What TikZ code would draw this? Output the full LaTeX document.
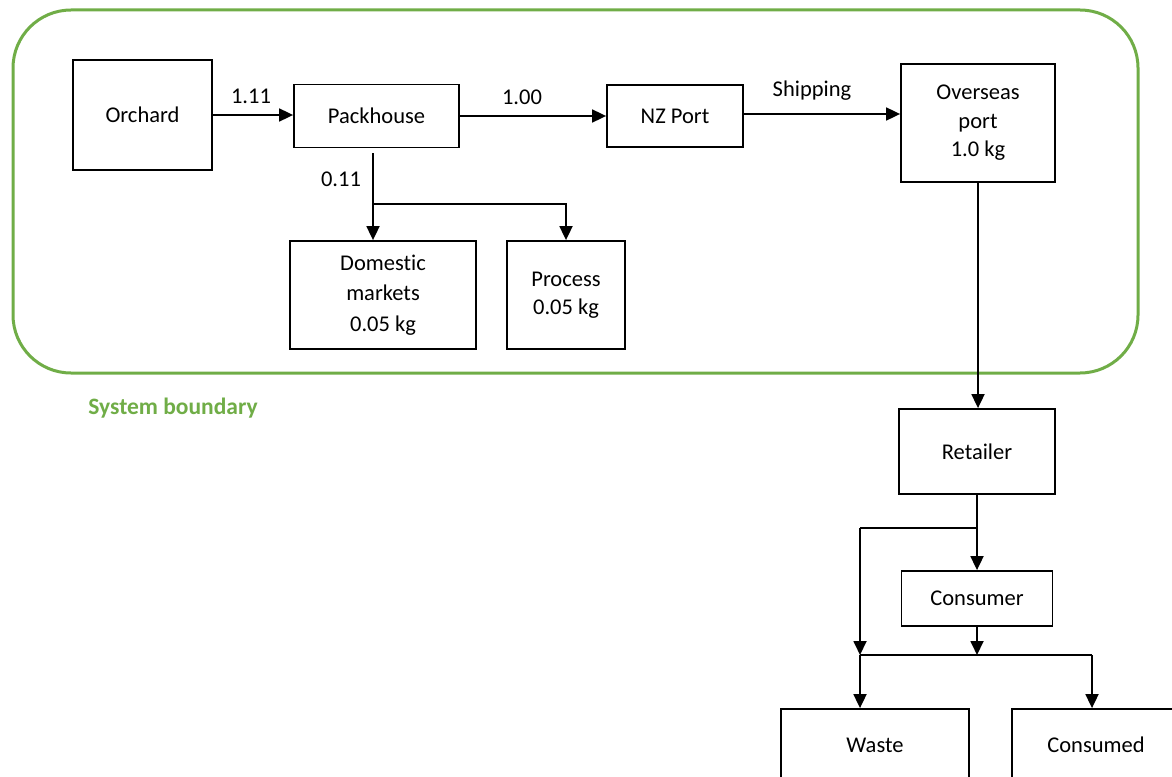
\documentclass[tikz,border=0pt]{standalone}
\usepackage{fontspec}
\setmainfont[Ligatures=NoCommon]{Carlito}
\usetikzlibrary{arrows.meta}
\definecolor{sysgreen}{RGB}{112,173,71}
\begin{document}
\begin{tikzpicture}[x=1pt,y=-1pt,
  every node/.style={font=\fontsize{22.5}{28.5}\selectfont},
  box/.style={draw,line width=1.8pt,inner sep=0pt,align=center},
  lbl/.style={inner sep=0pt},
  conn/.style={line width=1.8pt},
  arr/.style={line width=1.8pt,-{Triangle[length=14pt,width=13pt]}}]
\useasboundingbox (0,0) rectangle (1172,776);
\clip (0,0) rectangle (1172,776);
% system boundary
\draw[sysgreen,line width=3pt,rounded corners=58pt] (13,10) rectangle (1138,373);
\node[lbl,text=sysgreen,font=\fontsize{23.5}{25}\selectfont\bfseries] (sb) at (173,408) {System boundary};
% boxes
\node[box,minimum width=139pt,minimum height=110pt] (orch) at (142.5,115) {Orchard};
\node[box,minimum width=165pt,minimum height=63pt] (pack) at (376.5,116) {Packhouse};
\node[box,minimum width=136pt,minimum height=62pt] (nzp) at (675,116) {NZ Port};
\node[box,minimum width=154pt,minimum height=118pt] (ovs) at (978,123) {Overseas\\port\\1.0 kg};
\node[box,minimum width=186pt,minimum height=108pt,font=\fontsize{22.5}{30.5}\selectfont] (dom) at (383,295) {Domestic\\markets\\0.05 kg};
\node[box,minimum width=118pt,minimum height=108pt] (proc) at (566,295) {Process\\0.05 kg};
\node[box,minimum width=156pt,minimum height=85pt] (ret) at (977,451.5) {Retailer};
\node[box,minimum width=151pt,minimum height=55pt] (cons) at (977,598.5) {Consumer};
\node[box,minimum width=188pt,minimum height=72pt] (waste) at (875,745) {Waste};
\node[box,minimum width=168pt,minimum height=72pt] (consd) at (1096,745) {Consumed};
% labels
\node[lbl] (l1) at (251,96) {1.11};
\node[lbl] (l2) at (522,97) {1.00};
\node[lbl] (l3) at (812,91) {Shipping};
\node[lbl] (l4) at (341,179) {0.11};
% connectors top row
\draw[arr] (orch.east) -- (orch.east -| pack.west);
\draw[arr] (pack.east) -- (pack.east -| nzp.west);
\coordinate (s1) at (743,114);
\draw[arr] (s1) -- (s1 -| ovs.west);
% packhouse branch
\coordinate (p1) at (373,153);
\coordinate (p2) at (373,204);
\draw[arr] (p1) -- (p1 |- dom.north);
\draw[arr] (p2) -| (proc.north);
% overseas to retailer
\draw[arr] (ovs.south) -- (ovs.south |- ret.north);
% retailer to consumer
\draw[arr] (ret.south) -- (ret.south |- cons.north);
\coordinate (r1) at (977,528);
\coordinate (r2) at (860,528);
\coordinate (j1) at (860,655);
\coordinate (j2) at (1092,655);
\draw[line width=1.1pt] (r1) -- (r2);
\draw[arr] (r2) -- (j1);
\draw[arr] (cons.south) -- (cons.south |- j1);
\draw[conn] (j1) -- (j2);
\draw[arr] (j1) -- (j1 |- waste.north);
\draw[arr] (j2) -- (j2 |- consd.north);
\end{tikzpicture}
\end{document}
